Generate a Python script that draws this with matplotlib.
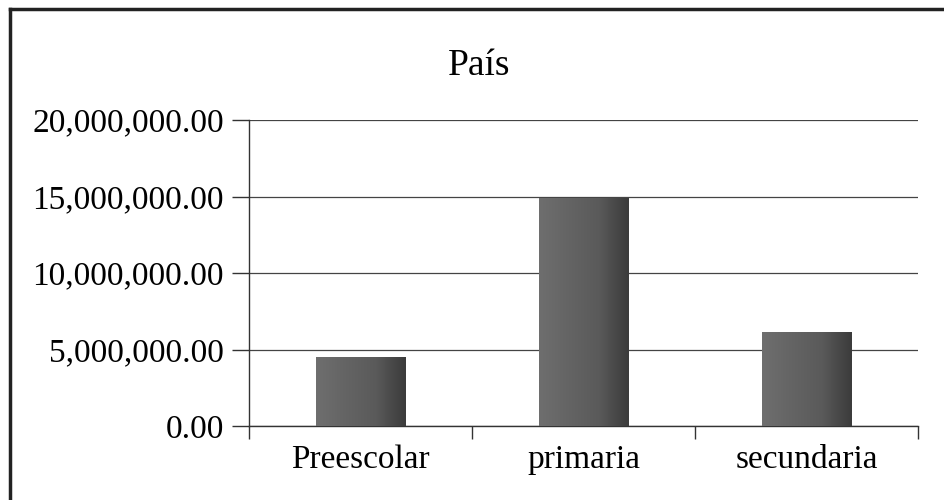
import matplotlib
matplotlib.use("Agg")
import numpy as np
import matplotlib.pyplot as plt
from matplotlib.lines import Line2D
from matplotlib.colors import LinearSegmentedColormap
from matplotlib.ticker import FuncFormatter, FixedLocator

categories = ["Preescolar", "primaria", "secundaria"]
values = [4500000, 14850000, 6080000]
y_ticks = [0, 5000000, 10000000, 15000000, 20000000]

plt.rcParams["font.family"] = "Liberation Serif"

fig = plt.figure(figsize=(9.45, 5), dpi=100)
ax = fig.add_axes([249 / 945, 1 - 426 / 500, 669 / 945, 306 / 500])

x = list(range(len(categories)))
bars = ax.bar(x, values, width=0.4, color="#5c5c5c", linewidth=0, zorder=3)

# horizontal shading like the original bars (darker towards the right edge)
shade = LinearSegmentedColormap.from_list(
    "shade", ["#6e6e6e", "#646464", "#5a5a5a", "#3c3c3c"])
grad = np.linspace(0, 1, 64).reshape(1, -1)
for b in bars:
    ax.imshow(grad, cmap=shade, aspect="auto", zorder=4,
              extent=[b.get_x(), b.get_x() + b.get_width(), 0, b.get_height()])

ax.set_xlim(-0.5, len(categories) - 0.5)
ax.set_ylim(0, 20000000)
ax.set_yticks(y_ticks)
ax.yaxis.set_major_formatter(FuncFormatter(lambda v, p: f"{v:,.2f}"))
ax.set_xticks(x)
ax.set_xticklabels(categories)
ax.xaxis.set_minor_locator(FixedLocator([-0.5, 0.5, 1.5, 2.5]))

ax.tick_params(axis="x", which="major", length=0, pad=13, labelsize=24)
ax.tick_params(axis="x", which="minor", length=9, width=1, color="#333333", direction="out")
ax.tick_params(axis="y", length=12, width=1, color="#333333", pad=6, labelsize=24)

ax.grid(axis="y", color="#444444", linewidth=0.9, zorder=0)
for s in ["top", "right"]:
    ax.spines[s].set_visible(False)
for s in ["left", "bottom"]:
    ax.spines[s].set_color("#333333")
    ax.spines[s].set_linewidth(1)

fig.text(479 / 945, 1 - 66 / 500, "País", ha="center", va="center", fontsize=27)

# scanned frame (left and top edges only)
fig.add_artist(Line2D([10 / 945, 10 / 945], [0, 1 - 9 / 500], transform=fig.transFigure,
                      color="#222222", linewidth=2.5))
fig.add_artist(Line2D([10 / 945, 1], [1 - 9 / 500, 1 - 9 / 500], transform=fig.transFigure,
                      color="#222222", linewidth=2.5))

fig.savefig("out.png", dpi=100)
